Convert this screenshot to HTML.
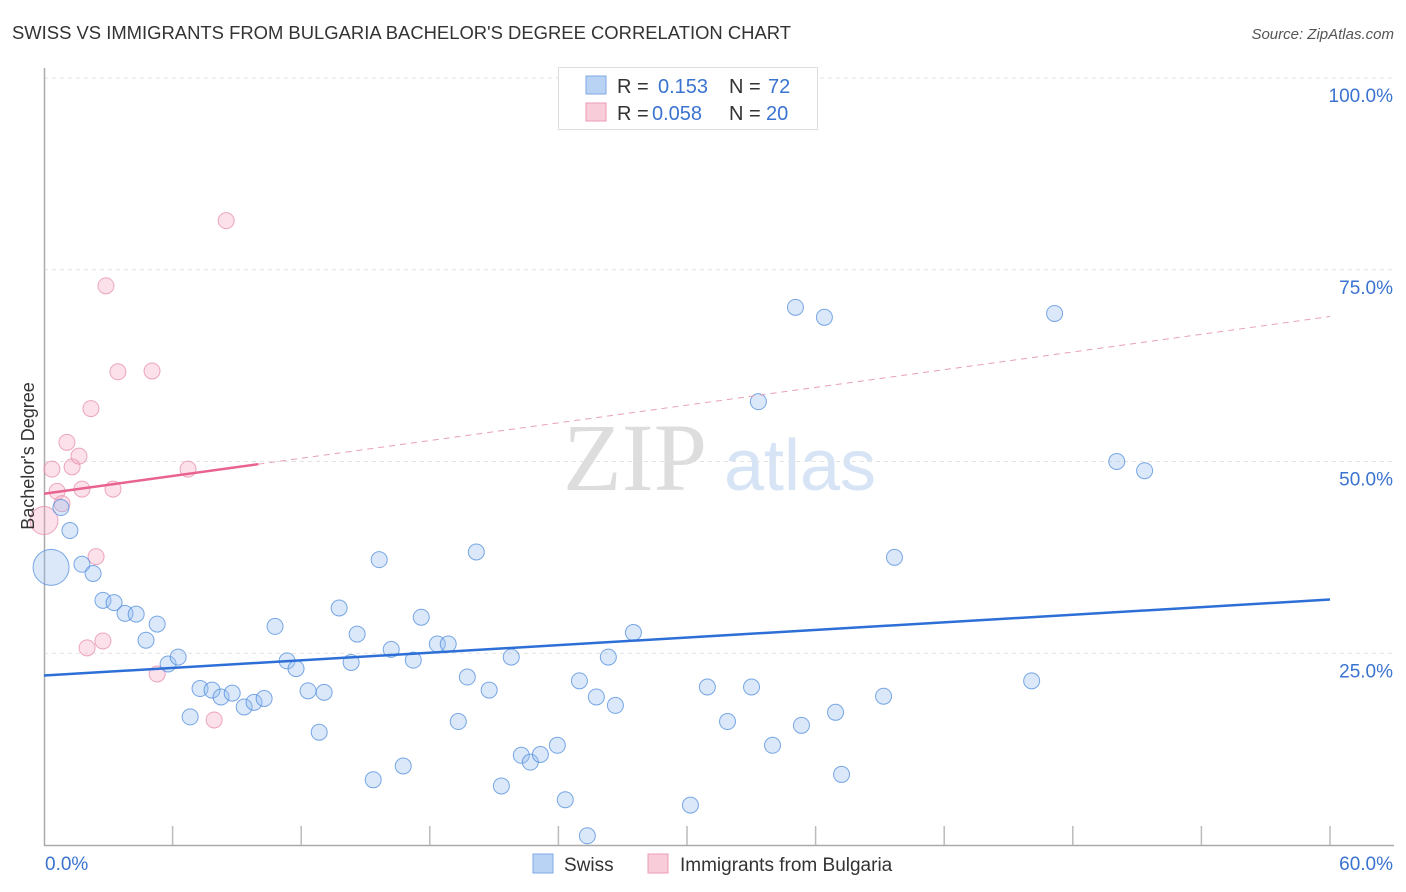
<!DOCTYPE html>
<html><head><meta charset="utf-8"><style>
body{margin:0;background:#fff;font-family:"Liberation Sans",sans-serif;}
svg{display:block}
</style></head><body>
<svg id="chart" width="1406" height="892" xmlns="http://www.w3.org/2000/svg">
<text x="12" y="39" font-size="18" fill="#333" textLength="779" lengthAdjust="spacingAndGlyphs">SWISS VS IMMIGRANTS FROM BULGARIA BACHELOR'S DEGREE CORRELATION CHART</text>
<text x="1394" y="39" font-size="15" fill="#555" font-style="italic" text-anchor="end">Source: ZipAtlas.com</text>
<g><text x="635" y="490" font-size="96" fill="#ddd" font-family="Liberation Serif,serif" text-anchor="middle">ZIP</text><text x="800" y="490" font-size="72" fill="#d6e4f5" text-anchor="middle">atlas</text></g>
<g id="grid"></g>
<g id="axes"></g>
<g id="marks"></g>
<text transform="translate(34,456) rotate(-90)" font-size="18" fill="#333" text-anchor="middle">Bachelor's Degree</text>
<g>
<rect x="558.5" y="67.5" width="259" height="62" fill="#fff" stroke="#ddd"/>
<rect x="586" y="76" width="20" height="18" fill="#b9d3f5" stroke="#7eaae5"/>
<text x="617" y="93" font-size="20" fill="#333">R = </text><text x="658" y="93" font-size="20" fill="#3a73d0">0.153</text>
<text x="729" y="93" font-size="20" fill="#333">N = </text><text x="768" y="93" font-size="20" fill="#3a73d0">72</text>
<rect x="586" y="103" width="20" height="18" fill="#f9ccd9" stroke="#eb9db5"/>
<text x="617" y="120" font-size="20" fill="#333">R = </text><text x="652" y="120" font-size="20" fill="#3a73d0">0.058</text>
<text x="729" y="120" font-size="20" fill="#333">N = </text><text x="766" y="120" font-size="20" fill="#3a73d0">20</text>
</g>
<g>
<rect x="533" y="854" width="20" height="19" fill="#b9d3f5" stroke="#7eaae5"/>
<text x="564" y="871" font-size="19" fill="#333">Swiss</text>
<rect x="648" y="854" width="20" height="19" fill="#f9ccd9" stroke="#eb9db5"/>
<text x="680" y="871" font-size="19" fill="#333">Immigrants from Bulgaria</text>
</g>
</svg>
<script>
const swissX=[0.33,0.79,1.21,1.77,2.29,2.75,3.27,3.78,4.30,4.76,5.28,5.79,6.26,6.82,7.28,7.84,8.26,8.78,9.34,9.80,10.27,10.78,11.34,11.76,12.32,12.84,13.07,13.77,14.61,14.33,15.36,15.64,16.20,16.76,17.23,17.60,18.35,18.86,19.33,19.75,20.17,20.77,21.34,21.80,22.27,22.69,23.16,23.95,24.32,24.98,25.35,25.77,26.33,26.66,27.50,30.16,30.95,31.89,33.01,33.33,33.99,35.06,35.34,36.41,36.93,37.21,39.17,39.68,46.08,47.15,50.05,51.35];
const swissY=[36.2,44.0,41.0,36.6,35.4,31.9,31.6,30.2,30.1,26.7,28.8,23.6,24.5,16.7,20.4,20.2,19.3,19.8,18.0,18.6,19.1,28.5,24.0,23.0,20.1,14.7,19.9,30.9,27.5,23.8,8.5,37.2,25.5,10.3,24.1,29.7,26.2,26.2,16.1,21.9,38.2,20.2,7.7,24.5,11.7,10.8,11.8,13.0,5.9,21.4,1.2,19.3,24.5,18.2,27.7,5.2,20.6,16.1,20.6,57.8,13.0,70.1,15.6,68.8,17.3,9.2,19.4,37.5,21.4,69.3,50.0,48.8];
const bulgX=[0,0.37,0.61,0.84,1.07,1.31,1.63,1.77,2.19,2.43,2.75,2.01,2.89,3.22,3.45,5.04,5.28,6.72,7.94,8.50];
const bulgY=[42.3,49.0,46.1,44.5,52.5,49.3,50.7,46.4,56.9,37.6,26.6,25.7,72.9,46.4,61.7,61.8,22.3,49.0,16.3,81.4];
const swissTrend=[22.1,32.0];
const bulgTrend=[45.8,68.9];
const yTicks=[25,50,75,100];
const yTickLabels=["25.0%","50.0%","75.0%","100.0%"];
const xTicks=[6,12,18,24,30,36,42,48,54,60];

const NS="http://www.w3.org/2000/svg";
const X=v=>44+v*(1330-44)/60;
const Y=v=>845-v*(845-78)/100;
function mk(tag,attrs,parent){const e=document.createElementNS(NS,tag);for(const k in attrs)e.setAttribute(k,attrs[k]);parent.appendChild(e);return e;}
const grid=document.getElementById('grid'),axes=document.getElementById('axes'),marks=document.getElementById('marks');
yTicks.forEach((t,i)=>{
 const l=mk('line',{x1:44,x2:1394,y1:Y(t),y2:Y(t),stroke:'#e2e2e2','stroke-dasharray':'4,4'},grid);
 
 
 const tx=mk('text',{x:1393,y:Y(t)+24,'font-size':19,fill:'#3a73d0','text-anchor':'end'},axes);
 tx.textContent=yTickLabels[i];
 
 
});
const ax=mk('path',{d:'M44.5 68V845.5H1394',fill:'none',stroke:'#aaa','stroke-width':1.5},axes);


xTicks.forEach(t=>{
 const l=mk('line',{x1:X(t),x2:X(t),y1:826,y2:845,stroke:'#bbb','stroke-width':1.5},axes);
 
 
});
const xl0=mk('text',{x:45,y:870,'font-size':19,fill:'#3a73d0'},axes);xl0.textContent='0.0%';


const xl1=mk('text',{x:1393,y:870,'font-size':19,fill:'#3a73d0','text-anchor':'end'},axes);xl1.textContent='60.0%';



bulgX.forEach((x,i)=>{
 const r=(i===0)?14:8;
 const c=mk('circle',{cx:X(x),cy:Y(bulgY[i]),r:r,fill:'rgba(245,170,195,0.35)',stroke:'rgba(230,140,170,0.75)','stroke-width':1},marks);
 
 
});
swissX.forEach((x,i)=>{
 const r=(i===0)?18:8;
 const c=mk('circle',{cx:X(x),cy:Y(swissY[i]),r:r,fill:'rgba(150,190,240,0.35)',stroke:'rgba(80,140,220,0.75)','stroke-width':1},marks);
 
 
});
const sl=mk('line',{x1:X(0),y1:Y(swissTrend[0]),x2:X(60),y2:Y(swissTrend[1]),stroke:'#2d6fd6','stroke-width':2.5},marks);


const bAt=x=>bulgTrend[0]+(bulgTrend[1]-bulgTrend[0])*x/60;
const bs=mk('line',{x1:X(0),y1:Y(bAt(0)),x2:X(10),y2:Y(bAt(10)),stroke:'#e8638f','stroke-width':2.5},marks);


const bd=mk('line',{x1:X(10),y1:Y(bAt(10)),x2:X(60),y2:Y(bAt(60)),stroke:'#e8a0b8','stroke-width':1,'stroke-dasharray':'6,5'},marks);


</script>
</body></html>
